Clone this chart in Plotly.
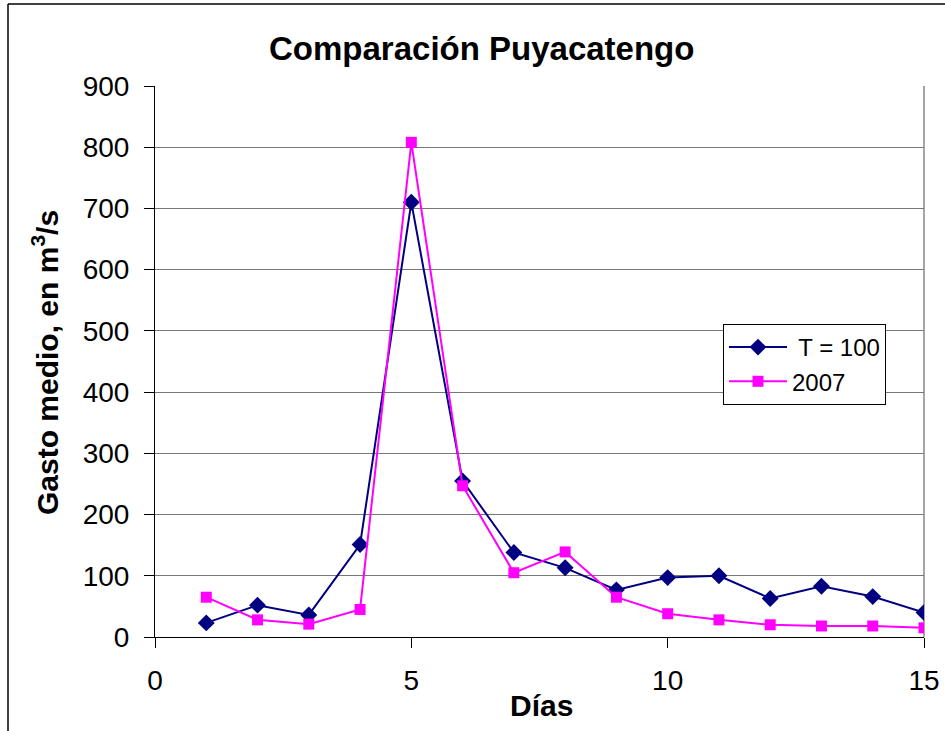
import plotly.graph_objects as go

dias = [1, 2, 3, 4, 5, 6, 7, 8, 9, 10, 11, 12, 13, 14, 15]
t100 = [23, 52, 36, 151, 710, 255, 138, 113, 77, 97, 100, 63, 83, 66, 40]
y2007 = [65, 28, 21, 45, 808, 247, 105, 139, 65, 38, 28, 20, 18, 18, 15]

x_ticks = [0, 5, 10, 15]
y_ticks = [0, 100, 200, 300, 400, 500, 600, 700, 800, 900]

FONT = "Liberation Sans, Arial, sans-serif"

fig = go.Figure()
fig.add_trace(go.Scatter(
    x=dias, y=t100, mode="lines+markers", name=" T = 100",
    line=dict(color="#000080", width=2),
    marker=dict(symbol="diamond", size=13, color="#000080"),
))
fig.add_trace(go.Scatter(
    x=dias, y=y2007, mode="lines+markers", name="2007",
    line=dict(color="#FF00FF", width=2),
    marker=dict(symbol="square", size=11, color="#FF00FF"),
))

L, R, T, B = 155, 21, 86, 94
W, H = 945, 731
pw = W - L - R
ph = H - T - B

fig.update_layout(
    width=W, height=H, autosize=False,
    margin=dict(l=L, r=R, t=T, b=B, autoexpand=False),
    paper_bgcolor="white", plot_bgcolor="white",
    font=dict(family=FONT, color="black", size=28),
    showlegend=True,
    legend=dict(
        x=(723 - L) / pw, y=(637 - 324) / ph, xanchor="left", yanchor="top",
        bgcolor="white", bordercolor="black", borderwidth=1,
        font=dict(size=24, family=FONT),
        itemwidth=58, tracegroupgap=0,
    ),
    xaxis=dict(
        range=[0, 15], tickvals=x_ticks, ticks="outside", ticklen=10,
        tickcolor="black", showline=True, linecolor="black", linewidth=1,
        showgrid=False, zeroline=False, tickfont=dict(size=28), automargin=False,
        ticklabelstandoff=8,
    ),
    yaxis=dict(
        range=[0, 900], tickvals=y_ticks, ticks="outside", ticklen=10,
        tickcolor="black", showline=True, linecolor="black", linewidth=1,
        showgrid=True, gridcolor="#777777", gridwidth=1, zeroline=False,
        tickfont=dict(size=28), automargin=False, ticklabelstandoff=9,
    ),
    shapes=[
        dict(type="line", xref="paper", yref="paper", x0=1, x1=1, y0=0, y1=1,
             line=dict(color="#888888", width=1.5), layer="below"),
        dict(type="line", xref="paper", yref="paper",
             x0=(8 - L) / pw, x1=(1000 - L) / pw,
             y0=(637 - 4) / ph, y1=(637 - 4) / ph,
             line=dict(color="black", width=1.5)),
        dict(type="line", xref="paper", yref="paper",
             x0=(8 - L) / pw, x1=(8 - L) / pw,
             y0=(637 - 4) / ph, y1=(637 - 800) / ph,
             line=dict(color="black", width=1.5)),
    ],
    annotations=[
        dict(text="<b>Comparación Puyacatengo</b>", xref="paper", yref="paper",
             x=(481 - L) / pw, y=(637 - 49) / ph, xanchor="center", yanchor="middle",
             showarrow=False, font=dict(size=33, family=FONT)),
        dict(text="<b>Días</b>", xref="paper", yref="paper",
             x=(541 - L) / pw, y=(637 - 705) / ph, xanchor="center", yanchor="middle",
             showarrow=False, font=dict(size=30, family=FONT)),
        dict(text="<b>Gasto medio, en m<sup>3</sup>/s</b>", xref="paper", yref="paper",
             x=(45 - L) / pw, y=(637 - 362) / ph, xanchor="center", yanchor="middle",
             textangle=-90, showarrow=False, font=dict(size=30, family=FONT)),
    ],
)

fig.write_html(
    "out.html",
    config={"responsive": False, "displayModeBar": False},
    post_script="document.body.style.margin='0';document.body.style.overflow='hidden';",
)
